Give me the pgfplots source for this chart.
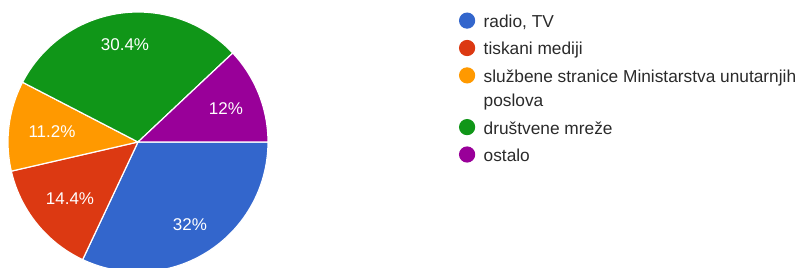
\documentclass[border=0pt]{standalone}
\usepackage{pgfplots}
\pgfplotsset{compat=1.18}
\usepackage{fontspec}
\setmainfont{Liberation Sans}
\definecolor{cblue}{HTML}{3366CC}
\definecolor{cred}{HTML}{DC3912}
\definecolor{corange}{HTML}{FF9900}
\definecolor{cgreen}{HTML}{109618}
\definecolor{cpurple}{HTML}{990099}
\definecolor{txt}{HTML}{2A2A2A}
% slice: cumulative start %, cumulative end %, colour
\newcommand{\slice}[3]{%
\addplot[fill=#3, draw=white, line width=1.2pt, domain=-3.6*#1:-3.6*#2, samples=80,
  legend image code/.code={\fill[#3] (7.5pt,3pt) circle (7.5pt);}]
  ({138+130*cos(x)},{126+130*sin(x)}) -- (axis cs:138,126) -- cycle;}
\begin{document}
\begin{tikzpicture}
\begin{axis}[
  width=801pt, height=268pt, scale only axis,
  xmin=0, xmax=801, ymin=0, ymax=268,
  hide axis, clip=true,
  legend cell align=left,
  legend style={at={(axis cs:459,255.5)}, anchor=north west, draw=none, fill=none,
    inner sep=0pt, outer sep=0pt, row sep=8.3pt, column sep=8.5pt,
    font=\fontsize{17.3}{20}\selectfont, text=txt,
    nodes={inner sep=0pt, text height=12pt, text depth=4pt}},
]
% values: radio, TV 32; tiskani mediji 14.4; sluzbene stranice 11.2; drustvene mreze 30.4; ostalo 12
\slice{0}{32}{cblue}
\addlegendentry{radio, TV}
\slice{32}{46.4}{cred}
\addlegendentry{tiskani mediji}
\slice{46.4}{57.6}{corange}
\addlegendentry{službene stranice Ministarstva unutarnjih}
\addlegendimage{empty legend}
\addlegendentry{poslova}
\slice{57.6}{88}{cgreen}
\addlegendentry{društvene mreže}
\slice{88}{100}{cpurple}
\addlegendentry{ostalo}
\begin{scope}[every node/.style={text=white, font=\fontsize{17}{20}\selectfont, inner sep=0pt}]
\node at (axis cs:190,43) {32\%};
\node at (axis cs:70,69) {14.4\%};
\node at (axis cs:52,136) {11.2\%};
\node at (axis cs:125,223) {30.4\%};
\node at (axis cs:226,159) {12\%};
\end{scope}
\end{axis}
\pgfresetboundingbox
\path[use as bounding box] (0,0) rectangle (801pt,268pt);
\end{tikzpicture}
\end{document}
